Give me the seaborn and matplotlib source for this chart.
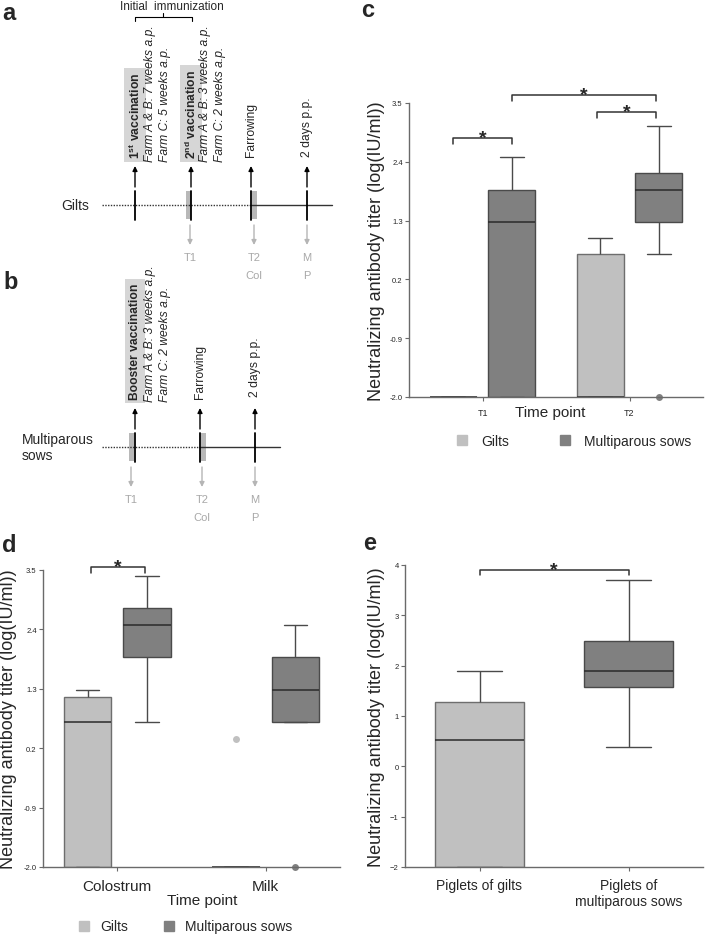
import numpy as np
import pandas as pd
import matplotlib.pyplot as plt
import seaborn as sns
from matplotlib.lines import Line2D
from matplotlib.patches import Rectangle

sns.set_style('ticks')
plt.rcParams['font.family'] = ['Liberation Sans', 'DejaVu Sans']
plt.rcParams['mathtext.fontset'] = 'custom'
plt.rcParams['mathtext.rm'] = 'Liberation Sans'
plt.rcParams['mathtext.bf'] = 'Liberation Sans:bold'
plt.rcParams['mathtext.it'] = 'Liberation Sans:italic'

groups = ['Gilts', 'Multiparous sows']
colors = {'Gilts': '#c0c0c0', 'Multiparous sows': '#808080'}
ylab = 'Neutralizing antibody titer (log(IU/ml))'

# panel c - serum titers, values (whisker/quartile/median)
c_times = ['T1', 'T2']
c_t1_gilts = [-2.0, -2.0, -2.0, -2.0, -2.0]
c_t1_sows = [-2.0, -2.0, 1.27, 1.87, 2.49]
c_t2_gilts = [-2.0, -2.0, -2.0, 0.67, 0.97]
c_t2_sows = [-2.0, 0.67, 1.27, 1.5, 1.87, 2.0, 2.19, 3.07, 3.07]
c_out_time = ['T2']
c_out_group = ['Multiparous sows']
c_out_val = [-2.0]

# panel d - colostrum / milk
d_samples = ['Colostrum', 'Milk']
d_col_gilts = [-2.0, -2.0, 0.69, 1.15, 1.28]
d_col_sows = [0.69, 1.89, 2.48, 2.80, 3.39]
d_milk_gilts = [-2.0, -2.0, -2.0, -2.0, 0.37]
d_milk_sows = [-2.0, 0.69, 0.69, 1.0, 1.28, 1.6, 1.89, 2.2, 2.48]
d_out_sample = ['Milk', 'Milk']
d_out_group = ['Gilts', 'Multiparous sows']
d_out_val = [0.37, -2.0]

# panel e - piglets
e_cats = ['Piglets of gilts', 'Piglets of\nmultiparous sows']
e_gilts = [-2.0, -2.0, 0.52, 1.28, 1.89]
e_sows = [0.38, 1.58, 1.89, 2.49, 3.70]

ticks_55 = [3.5, 2.4, 1.3, 0.2, -0.9, -2.0]
ticks_55_lab = ['3.5', '2.4', '1.3', '0.2', '-0.9', '-2.0']
ticks_e = [-2, -1, 0, 1, 2, 3, 4]


def long_df(cells):
    rows = []
    for cat, grp, vals in cells:
        rows += [(cat, grp, v) for v in vals]
    return pd.DataFrame(rows, columns=['cat', 'group', 'titer'])


df_c = long_df([('T1', 'Gilts', c_t1_gilts), ('T1', 'Multiparous sows', c_t1_sows),
                ('T2', 'Gilts', c_t2_gilts), ('T2', 'Multiparous sows', c_t2_sows)])
out_c = pd.DataFrame({'cat': c_out_time, 'group': c_out_group, 'titer': c_out_val})
df_d = long_df([('Colostrum', 'Gilts', d_col_gilts), ('Colostrum', 'Multiparous sows', d_col_sows),
                ('Milk', 'Gilts', d_milk_gilts), ('Milk', 'Multiparous sows', d_milk_sows)])
out_d = pd.DataFrame({'cat': d_out_sample, 'group': d_out_group, 'titer': d_out_val})
df_e = long_df([(e_cats[0], 'Gilts', e_gilts), (e_cats[1], 'Multiparous sows', e_sows)])

W, H = 709, 937
fig = plt.figure(figsize=(W / 100, H / 100), dpi=100)

# overlay in pixel coordinates for the timeline schematics and panel letters
ov = fig.add_axes([0, 0, 1, 1])
ov.set_xlim(0, W)
ov.set_ylim(H, 0)
ov.axis('off')

for letter, lx, ly in [('a', 2, 20), ('b', 3, 289), ('c', 361, 17), ('d', 2, 552), ('e', 363, 550)]:
    ov.text(lx, ly, letter, fontsize=17, fontweight='bold', ha='left', va='baseline')

ov.text(172, 7, 'Initial  immunization', fontsize=8.5, ha='center', va='center')
ov.plot([135, 135, 192, 192], [22, 18, 18, 22], color='k', lw=0.8)
ov.plot([163, 163], [18, 14], color='k', lw=0.8)

FS = 8.7


def timeline(name, name_x, name_ha, y, x0, x_switch, x_end, events, bars, texts, samples):
    ov.text(name_x, y, name, fontsize=10, ha=name_ha, va='center', linespacing=1.1)
    ov.plot([x0, x_switch], [y, y], color='#333333', lw=1, ls=(0, (1, 1)))
    ov.plot([x_switch, x_end], [y, y], color='#333333', lw=1)
    for bx, bw in bars:
        ov.add_patch(Rectangle((bx, y - 14), bw, 28, color='#b8b8b8', lw=0))
    for ex in events:
        ov.plot([ex, ex], [y - 14, y + 15], color='k', lw=1.3)
        ov.annotate('', xy=(ex, y - 39), xytext=(ex, y - 18),
                    arrowprops=dict(arrowstyle='-|>', color='k', lw=1, mutation_scale=7,
                                    shrinkA=0, shrinkB=0))
    for tx, ty, s, kind in texts:
        kw = dict(rotation=90, ha='center', va='bottom', fontsize=FS)
        if kind == 'bold':
            kw.update(fontweight='bold',
                      bbox=dict(boxstyle='square,pad=0.3', fc='#d6d6d6', ec='none'))
        elif kind == 'italic':
            kw.update(fontstyle='italic')
        ov.text(tx, ty, s, **kw)
    for sx, lines in samples:
        ov.annotate('', xy=(sx, y + 40), xytext=(sx, y + 20),
                    arrowprops=dict(arrowstyle='-|>', color='#b5b5b5', lw=1, mutation_scale=7,
                                    shrinkA=0, shrinkB=0))
        for i, s in enumerate(lines):
            ov.text(sx, y + 52 + 18 * i, s, fontsize=8, color='#a8a8a8', ha='center', va='center')


timeline('Gilts', 89, 'right', 206, 102, 250, 332,
         [135, 191, 251, 307], [(186, 5), (252, 5)],
         [(135, 159, r'$\mathbf{1^{st}}$ vaccination', 'bold'),
          (150, 162, 'Farm A & B: 7 weeks a.p.', 'italic'),
          (165, 162, 'Farm C: 5 weeks a.p.', 'italic'),
          (191, 159, r'$\mathbf{2^{nd}}$ vaccination', 'bold'),
          (205, 162, 'Farm A & B: 3 weeks a.p.', 'italic'),
          (220, 162, 'Farm C: 2 weeks a.p.', 'italic'),
          (251, 157, 'Farrowing', 'normal'),
          (307, 157, '2 days p.p.', 'normal')],
         [(190, ['T1']), (254, ['T2', 'Col']), (307, ['M', 'P'])])

timeline('Multiparous\nsows', 22, 'left', 448, 102, 200, 280,
         [135, 200, 255], [(129, 5), (201, 5)],
         [(135, 400, 'Booster vaccination', 'bold'),
          (150, 402, 'Farm A & B: 3 weeks a.p.', 'italic'),
          (165, 402, 'Farm C: 2 weeks a.p.', 'italic'),
          (200, 399, 'Farrowing', 'normal'),
          (255, 397, '2 days p.p.', 'normal')],
         [(131, ['T1']), (202, ['T2', 'Col']), (255, ['M', 'P'])])


def px_axes(left, top, right, bottom):
    return fig.add_axes([left / W, 1 - bottom / H, (right - left) / W, (bottom - top) / H])


def style_axes(ax):
    sns.despine(ax=ax)
    for sp in ['left', 'bottom']:
        ax.spines[sp].set_color('#6a6a6a')
        ax.spines[sp].set_linewidth(1)
        ax.spines[sp].set_zorder(5)
    ax.tick_params(axis='y', labelsize=5.5, length=3, width=0.8, color='#6a6a6a', pad=1.5)
    ax.tick_params(axis='x', length=3, width=0.8, color='#6a6a6a')
    ax.set_facecolor('none')
    # lighter outline on the gilts boxes, as in the original
    for p in ax.patches:
        fc = p.get_facecolor()
        if fc[0] > 0.6:
            p.set_edgecolor('#6e6e6e')


def bracket(ax, x1, x2, y, h):
    ax.plot([x1, x1, x2, x2], [y - h, y, y, y - h], color='#333333', lw=1.1, clip_on=False)
    ax.annotate('*', xy=((x1 + x2) / 2, y), xytext=(0, -3), textcoords='offset points',
                ha='center', va='baseline', fontsize=14, fontweight='bold',
                annotation_clip=False)


box_kw = dict(palette=colors, saturation=1, showfliers=False, linecolor='#4a4a4a',
              linewidth=1, legend=False, medianprops=dict(color='#2a2a2a', lw=1.1))
strip_kw = dict(palette=colors, dodge=True, jitter=False, size=5, linewidth=0, legend=False)

# ---- panel c
ax_c = px_axes(409, 104, 703, 398)
sns.boxplot(data=df_c, x='cat', y='titer', hue='group', order=c_times, hue_order=groups,
            width=0.8, gap=0.2, ax=ax_c, **box_kw)
sns.stripplot(data=out_c, x='cat', y='titer', hue='group', order=c_times, hue_order=groups,
              ax=ax_c, **strip_kw)
ax_c.set_ylim(-2.0, 3.5)
ax_c.set_xlim(-0.5, 1.5)
ax_c.set_yticks(ticks_55, ticks_55_lab)
style_axes(ax_c)
ax_c.tick_params(axis='x', labelsize=6.5, pad=5)
ax_c.set_ylabel(ylab, fontsize=13)
ax_c.yaxis.set_label_coords(-0.082, 0.5)
ax_c.set_xlabel('Time point', fontsize=11)
ax_c.xaxis.set_label_coords(0.48, -0.028)
bracket(ax_c, -0.2, 0.2, 2.85, 0.11)
bracket(ax_c, 0.2, 1.18, 3.65, 0.11)
bracket(ax_c, 0.78, 1.18, 3.33, 0.11)
handles = [Line2D([], [], marker='s', ls='', color=colors[g], markersize=7, label=g) for g in groups]
ax_c.legend(handles=handles, loc='center', bbox_to_anchor=(0.56, -0.15), ncol=2, frameon=False,
            fontsize=10, handlelength=0.8, handletextpad=1.0, columnspacing=3.6)

# ---- panel d
ax_d = px_axes(43, 571, 340, 868)
sns.boxplot(data=df_d, x='cat', y='titer', hue='group', order=d_samples, hue_order=groups,
            width=0.8, gap=0.2, ax=ax_d, **box_kw)
sns.stripplot(data=out_d, x='cat', y='titer', hue='group', order=d_samples, hue_order=groups,
              ax=ax_d, **strip_kw)
ax_d.set_ylim(-2.0, 3.5)
ax_d.set_xlim(-0.5, 1.5)
ax_d.set_yticks(ticks_55, ticks_55_lab)
style_axes(ax_d)
ax_d.tick_params(axis='x', labelsize=11, pad=6)
ax_d.set_ylabel(ylab, fontsize=13)
ax_d.yaxis.set_label_coords(-0.088, 0.5)
ax_d.set_xlabel('Time point', fontsize=11)
ax_d.xaxis.set_label_coords(0.535, -0.088)
bracket(ax_d, -0.18, 0.19, 3.56, 0.11)
ax_d.legend(handles=handles, loc='center', bbox_to_anchor=(0.48, -0.2), ncol=2, frameon=False,
            fontsize=10, handlelength=0.8, handletextpad=0.8, columnspacing=2.5)

# ---- panel e
ax_e = px_axes(405, 566, 703, 868)
sns.boxplot(data=df_e, x='cat', y='titer', hue='group', order=e_cats, hue_order=groups,
            width=0.6, dodge=False, ax=ax_e, **box_kw)
ax_e.set_ylim(-2, 4)
ax_e.set_xlim(-0.5, 1.5)
ax_e.set_yticks(ticks_e)
style_axes(ax_e)
ax_e.tick_params(axis='x', labelsize=10, pad=5)
ax_e.set_ylabel(ylab, fontsize=13)
ax_e.yaxis.set_label_coords(-0.067, 0.5)
ax_e.set_xlabel('')
bracket(ax_e, 0, 1, 3.9, 0.1)

for ax in (ax_c, ax_d, ax_e):
    for coll in ax.collections:
        coll.set_clip_on(False)

fig.savefig('out.png', dpi=100)
